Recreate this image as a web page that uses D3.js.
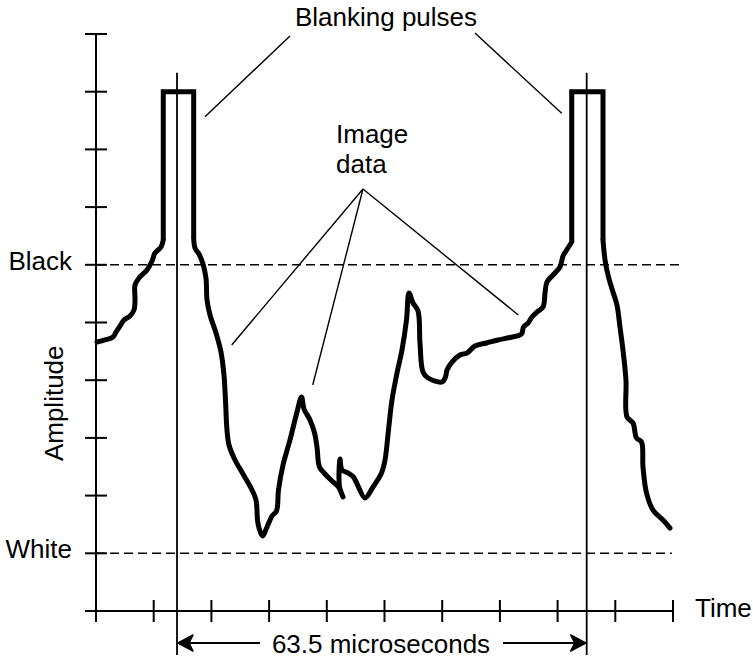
<!DOCTYPE html>
<html>
<head>
<meta charset="utf-8">
<script src="https://cdn.jsdelivr.net/npm/d3@7"></script>
<style>
  html, body { margin: 0; padding: 0; background: #fff; }
  svg { display: block; }
  text { font-family: "Liberation Sans", Arial, Helvetica, sans-serif; font-size: 26px; fill: #000; }
</style>
</head>
<body>
<svg id="chart" width="753" height="659"></svg>
<script>
// One scan line of a video signal: time in grid units, amplitude in grid units
const waveTime = [
  0.017, 0.156, 0.295, 0.347, 0.416, 0.485, 0.589, 0.659, 0.676, 0.676,
  0.745, 0.884, 0.971, 1.023, 1.127, 1.166, 1.166, 1.693, 1.693, 1.716,
  1.785, 1.854, 1.906, 1.924, 1.976, 2.080, 2.166, 2.218, 2.244, 2.270,
  2.305, 2.409, 2.548, 2.704, 2.773, 2.799, 2.825, 2.886, 2.964, 3.050,
  3.128, 3.163, 3.241, 3.362, 3.475, 3.562, 3.605, 3.709, 3.787, 3.830,
  3.873, 3.969, 4.090, 4.203, 4.281, 4.220, 4.229, 4.263, 4.367, 4.463,
  4.549, 4.662, 4.801, 4.948, 5.009, 5.069, 5.130, 5.217, 5.303, 5.381,
  5.425, 5.494, 5.581, 5.615, 5.667, 5.754, 5.997, 6.057, 6.083, 6.170,
  6.308, 6.430, 6.568, 6.768, 6.967, 7.175, 7.374, 7.409, 7.487, 7.556,
  7.643, 7.747, 7.782, 7.816, 7.955, 8.042, 8.094, 8.146, 8.245, 8.245,
  8.787, 8.787, 8.822, 8.882, 8.960, 9.029, 9.081, 9.133, 9.185, 9.203,
  9.307, 9.367, 9.454, 9.480, 9.541, 9.653, 9.827, 9.948
];
const waveAmp = [
  4.662, 4.697, 4.749, 4.835, 4.939, 5.043, 5.113, 5.217, 5.390, 5.650,
  5.771, 5.910, 6.066, 6.205, 6.308, 6.430, 9.000, 9.000, 6.464, 6.291,
  6.187, 6.014, 5.771, 5.390, 5.130, 4.818, 4.489, 4.090, 3.657, 3.137,
  2.877, 2.617, 2.374, 2.097, 1.924, 1.577, 1.438, 1.300, 1.456, 1.646,
  1.733, 2.097, 2.530, 2.964, 3.414, 3.709, 3.501, 3.310, 3.085, 2.842,
  2.496, 2.374, 2.253, 2.149, 1.976, 2.149, 2.634, 2.444, 2.392, 2.322,
  2.149, 1.958, 2.149, 2.392, 2.617, 3.137, 3.657, 4.125, 4.523, 5.043,
  5.511, 5.338, 5.199, 4.645, 4.142, 4.038, 3.969, 4.055, 4.177, 4.315,
  4.437, 4.471, 4.593, 4.645, 4.697, 4.740, 4.801, 4.922, 4.991, 5.095,
  5.182, 5.269, 5.511, 5.702, 5.858, 5.962, 6.153, 6.239, 6.395, 9.000,
  9.000, 6.430, 6.083, 5.789, 5.529, 5.303, 4.922, 4.523, 4.003, 3.362,
  3.258, 2.998, 2.929, 2.496, 2.045, 1.750, 1.577, 1.438
];
// Indices where the blanking pulses rise and fall (flat-topped, square corners)
const pulseStarts = [15, 98];

const timeTicks = [1, 2, 3, 4, 5, 6, 7, 8, 9, 10];
const ampTicks = [1, 2, 3, 4, 5, 6, 7, 8, 9, 10];
const levelNames = ["Black", "White"];
const levelValues = [6, 1];
const lineMarkers = [1.404, 8.504];      // start of consecutive scan lines
const periodLabel = "63.5 microseconds";
const axisTitleX = "Time";
const axisTitleY = "Amplitude";
const pulseLabel = "Blanking pulses";
const imageLabel = ["Image", "data"];

const svg = d3.select("#chart");
const x = d3.scaleLinear().domain([0, 10]).range([96, 673]);
const y = d3.scaleLinear().domain([0, 10]).range([611, 34]);
const tickHalf = 11;

// Reference levels
const levels = svg.append("g");
levelValues.forEach((v, i) => {
  levels.append("line")
    .attr("x1", x(0)).attr("x2", i === 0 ? x(10.12) : x(9.98))
    .attr("y1", y(v)).attr("y2", y(v))
    .attr("stroke", "#000").attr("stroke-width", 1.6)
    .attr("stroke-dasharray", "9,5");
  levels.append("text")
    .attr("x", 72).attr("y", y(v) + 5)
    .attr("text-anchor", "end")
    .text(levelNames[i]);
});

// Axes
const axes = svg.append("g").attr("stroke", "#000").attr("stroke-width", 2);
axes.append("line")
  .attr("x1", x(0)).attr("x2", x(0))
  .attr("y1", y(10)).attr("y2", y(0) + tickHalf);
axes.append("line")
  .attr("x1", x(0) - tickHalf).attr("x2", x(10))
  .attr("y1", y(0)).attr("y2", y(0));
axes.selectAll("line.ytick").data(ampTicks).join("line")
  .attr("class", "ytick")
  .attr("x1", x(0) - tickHalf).attr("x2", x(0) + tickHalf)
  .attr("y1", d => y(d)).attr("y2", d => y(d));
axes.selectAll("line.xtick").data(timeTicks).join("line")
  .attr("class", "xtick")
  .attr("x1", d => x(d)).attr("x2", d => x(d))
  .attr("y1", y(0) - tickHalf).attr("y2", y(0) + tickHalf);

svg.append("text").attr("x", 695).attr("y", 617).text(axisTitleX);
svg.append("text")
  .attr("transform", `translate(63,${y(3.6)}) rotate(-90)`)
  .attr("text-anchor", "middle")
  .text(axisTitleY);

// Line-period markers
svg.selectAll("line.marker").data(lineMarkers).join("line")
  .attr("class", "marker")
  .attr("x1", d => x(d)).attr("x2", d => x(d))
  .attr("y1", y(9.33)).attr("y2", 655)
  .attr("stroke", "#000").attr("stroke-width", 1.8);

// Period dimension arrow
const arrowY = 643;
const [m0, m1] = lineMarkers.map(x);
const dim = svg.append("g");
dim.append("line").attr("x1", m0 + 4).attr("x2", 260).attr("y1", arrowY).attr("y2", arrowY)
  .attr("stroke", "#000").attr("stroke-width", 2);
dim.append("line").attr("x1", 503).attr("x2", m1 - 4).attr("y1", arrowY).attr("y2", arrowY)
  .attr("stroke", "#000").attr("stroke-width", 2);
dim.append("path")
  .attr("d", `M${m0 + 1},${arrowY} L${m0 + 16},${arrowY - 8} L${m0 + 12},${arrowY} L${m0 + 16},${arrowY + 8} Z`)
  .attr("fill", "#000").attr("stroke", "#000").attr("stroke-width", 1.5).attr("stroke-linejoin", "round");
dim.append("path")
  .attr("d", `M${m1 - 1},${arrowY} L${m1 - 16},${arrowY - 8} L${m1 - 12},${arrowY} L${m1 - 16},${arrowY + 8} Z`)
  .attr("fill", "#000").attr("stroke", "#000").attr("stroke-width", 1.5).attr("stroke-linejoin", "round");
dim.append("text").attr("x", 381).attr("y", 653).attr("text-anchor", "middle").text(periodLabel);

// Signal trace: smooth image-data stretches, square blanking pulses
const smooth = d3.line()
  .x(i => x(waveTime[i]))
  .y(i => y(waveAmp[i]))
  .curve(d3.curveCatmullRom.alpha(0.5));
const square = d3.line()
  .x(i => x(waveTime[i]))
  .y(i => y(waveAmp[i]));
const trace = svg.append("g")
  .attr("fill", "none").attr("stroke", "#000").attr("stroke-width", 5);
let from = 0;
pulseStarts.forEach(p => {
  trace.append("path").attr("d", smooth(d3.range(from, p + 1)))
    .attr("stroke-linecap", "round").attr("stroke-linejoin", "round");
  trace.append("path").attr("d", square(d3.range(p, p + 4)))
    .attr("stroke-linejoin", "miter");
  from = p + 3;
});
trace.append("path").attr("d", smooth(d3.range(from, waveTime.length)))
  .attr("stroke-linecap", "round").attr("stroke-linejoin", "round");

// Callouts
const leaders = svg.append("g").attr("stroke", "#000").attr("stroke-width", 1.4);
[[3.362, 9.965, 1.889, 8.567], [6.568, 10.017, 8.071, 8.626],
 [4.627, 7.314, 2.352, 4.610], [4.627, 7.314, 3.756, 3.917], [4.627, 7.314, 7.319, 5.130]]
  .forEach(([t0, a0, t1, a1]) => {
    leaders.append("line")
      .attr("x1", x(t0)).attr("y1", y(a0))
      .attr("x2", x(t1)).attr("y2", y(a1));
  });

svg.append("text").attr("x", 386).attr("y", 26).attr("text-anchor", "middle").text(pulseLabel);
svg.append("text").selectAll("tspan").data(imageLabel).join("tspan")
  .attr("x", 336).attr("y", (d, i) => 143 + i * 30)
  .text(d => d);
</script>
</body>
</html>
